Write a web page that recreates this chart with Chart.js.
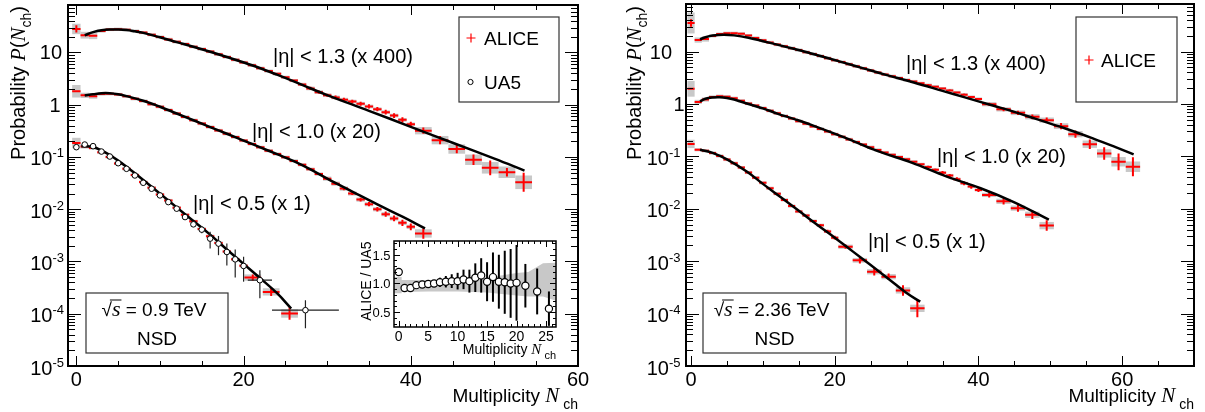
<!DOCTYPE html>
<html>
<head>
<meta charset="utf-8">
<script src="https://cdn.jsdelivr.net/npm/chart.js@4.4.1/dist/chart.umd.min.js"></script>
<style>
  html, body { margin: 0; padding: 0; background: #fff; }
  #wrap { position: relative; width: 1205px; height: 412px; overflow: hidden; background: #fff; }
  canvas { position: absolute; top: 0; }
</style>
</head>
<body>
<div id="wrap">
  <canvas id="c09" width="605" height="412" style="left:0"></canvas>
  <canvas id="c236" width="600" height="412" style="left:605px"></canvas>
  <canvas id="cRatio" width="225" height="140" style="left:340px;top:225px"></canvas>
</div>
<script>
//=======================================================//
//  sqrt(s) = 0.9 TeV  (left panel)

// |eta| < 1.3 (x 400)
const a09_13_x = [0,1,2,3,4,5,6,7,8,9,10,11,12,13,14,15,16,17,18,19,20,21,22,23,24,25,26,27,28,29,30,31,32,33,34,35,36,37,38,39,40,41.5,43.5,45.5,47.5,49.5,51.5,53.5];
const a09_13_y = [28.2,21.4,20.9,25.7,27.5,27.9,27.2,25.7,24.0,21.9,19.7,17.8,16.0,14.5,12.9,11.6,10.4,9.2,8.2,7.25,6.45,5.7,5.0,4.4,3.9,3.35,2.9,2.45,2.05,1.74,1.52,1.38,1.25,1.15,1.045,0.927,0.822,0.72,0.62,0.513,0.422,0.318,0.21,0.142,0.0885,0.062,0.051,0.0328];
const a09_13_ex = [0.5,0.5,0.5,0.5,0.5,0.5,0.5,0.5,0.5,0.5,0.5,0.5,0.5,0.5,0.5,0.5,0.5,0.5,0.5,0.5,0.5,0.5,0.5,0.5,0.5,0.5,0.5,0.5,0.5,0.5,0.5,0.5,0.5,0.5,0.5,0.5,0.5,0.5,0.5,0.5,0.5,1,1,1,1,1,1,1];
const a09_13_stat = [0.07,0.005,0.005,0.005,0.005,0.005,0.005,0.005,0.005,0.005,0.005,0.005,0.005,0.005,0.005,0.005,0.005,0.005,0.005,0.005,0.005,0.005,0.005,0.005,0.005,0.005,0.005,0.005,0.03,0.03,0.03,0.035,0.035,0.035,0.04,0.04,0.04,0.045,0.045,0.05,0.05,0.06,0.08,0.08,0.1,0.14,0.08,0.18];
const a09_13_sys = [0.1,0.065,0.065,0.03,0.03,0.03,0.03,0.03,0.03,0.03,0.03,0.03,0.03,0.03,0.03,0.03,0.03,0.03,0.03,0.03,0.03,0.03,0.03,0.03,0.03,0.03,0.03,0.03,0.035,0.035,0.035,0.035,0.035,0.035,0.035,0.035,0.035,0.035,0.035,0.035,0.035,0.07,0.08,0.09,0.1,0.11,0.11,0.13];
const fit09_13_x = [1,2,3,4,5,6,7,8,10,12,15,18,21,24,27,30,35,40,45,50,53.6];
const fit09_13_y = [21.4,24.5,26.6,27.5,27.5,26.9,25.4,23.7,19.5,15.8,11.5,8.2,5.7,3.76,2.4,1.53,0.765,0.378,0.187,0.093,0.055];

// |eta| < 1.0 (x 20)
const a09_10_x = [0,1,2,3,4,5,6,7,8,9,10,11,12,13,14,15,16,17,18,19,20,21,22,23,24,25,26,27,28,29,30,31,32,33,34,35,36,37,38,39,40,41.5];
const a09_10_y = [1.81,1.51,1.46,1.60,1.62,1.57,1.445,1.30,1.175,1.02,0.915,0.79,0.68,0.585,0.505,0.435,0.374,0.322,0.278,0.24,0.206,0.178,0.153,0.132,0.114,0.0988,0.0842,0.071,0.0585,0.0472,0.0385,0.0309,0.0248,0.02,0.0153,0.0125,0.01,0.00805,0.00667,0.00549,0.0046,0.00344];
const a09_10_ex = [0.5,0.5,0.5,0.5,0.5,0.5,0.5,0.5,0.5,0.5,0.5,0.5,0.5,0.5,0.5,0.5,0.5,0.5,0.5,0.5,0.5,0.5,0.5,0.5,0.5,0.5,0.5,0.5,0.5,0.5,0.5,0.5,0.5,0.5,0.5,0.5,0.5,0.5,0.5,0.5,0.5,1];
const a09_10_stat = [0.01,0.005,0.005,0.005,0.005,0.005,0.005,0.005,0.005,0.005,0.005,0.005,0.005,0.005,0.005,0.005,0.005,0.005,0.005,0.005,0.005,0.005,0.005,0.005,0.005,0.005,0.005,0.005,0.005,0.005,0.02,0.025,0.03,0.03,0.035,0.04,0.045,0.05,0.055,0.06,0.065,0.1];
const a09_10_sys = [0.12,0.05,0.05,0.03,0.03,0.03,0.03,0.03,0.03,0.03,0.03,0.03,0.03,0.03,0.03,0.03,0.03,0.03,0.03,0.03,0.03,0.03,0.03,0.03,0.03,0.03,0.03,0.03,0.03,0.03,0.04,0.04,0.04,0.04,0.04,0.04,0.04,0.04,0.04,0.04,0.04,0.08];
const fit09_10_x = [1,2,3,4,5,6,8,10,12,14,16,18,20,22,24,26,28,30,33,36,39,41.7];
const fit09_10_y = [1.5,1.585,1.66,1.66,1.585,1.46,1.19,0.915,0.68,0.505,0.374,0.278,0.206,0.153,0.113,0.0832,0.0578,0.0385,0.0218,0.0124,0.0072,0.0043];

// |eta| < 0.5 (x 1)
const a09_05_x = [0,1,2,3,4,5,6,7,8,9,10,11,12,13,14,15,16,17,18,19,20,21.1,23.3,25.5];
const a09_05_y = [0.185,0.159,0.148,0.123,0.1,0.0752,0.0594,0.0452,0.0331,0.0257,0.0191,0.0147,0.0107,0.0078,0.00586,0.00419,0.00304,0.00227,0.00155,0.0011,0.00083,0.000493,0.000262,0.000101];
const a09_05_ex = [0.5,0.5,0.5,0.5,0.5,0.5,0.5,0.5,0.5,0.5,0.5,0.5,0.5,0.5,0.5,0.5,0.5,0.5,0.5,0.5,0.5,1,1,1];
const a09_05_stat = [0.01,0.005,0.005,0.005,0.005,0.005,0.005,0.005,0.005,0.005,0.005,0.005,0.005,0.005,0.005,0.02,0.03,0.03,0.04,0.05,0.05,0.06,0.08,0.12];
const a09_05_sys = [0.1,0.04,0.03,0.03,0.03,0.03,0.03,0.03,0.03,0.03,0.03,0.03,0.03,0.03,0.03,0.03,0.03,0.03,0.03,0.03,0.03,0.06,0.07,0.08];
const fit09_05_x = [0.6,2,3,4,5,6,8,10,12,14,16,18,20,22,24,25.7];
const fit09_05_y = [0.161,0.155,0.134,0.109,0.0851,0.0647,0.0363,0.0199,0.01087,0.00596,0.00326,0.0017,0.000902,0.000477,0.000247,0.000126];

// UA5, |eta| < 0.5
const ua5_x = [0,1,2,3,4,5,6,7,8,9,10,11,12,13,14,15,16,17,18,19,20,21.95,27.4];
const ua5_y = [0.154,0.173,0.161,0.127,0.102,0.076,0.0594,0.0443,0.0321,0.0247,0.0184,0.0137,0.01026,0.00708,0.00514,0.00407,0.00274,0.0022,0.00152,0.0011,0.000822,0.000439,0.000117];
const ua5_ex = [0,0,0,0,0,0,0,0,0,0,0,0,0,0,0,0,0,0,0,0,0,1.45,4];
const ua5_ey = [0.03,0.03,0.03,0.03,0.03,0.03,0.03,0.03,0.03,0.03,0.03,0.03,0.03,0.03,0.1,0.15,0.35,0.4,0.45,0.55,0.5,0.55,0.55];

// ALICE / UA5 ratio (inset)
const ratio_x = [0,1,2,3,4,5,6,7,8,9,10,11,12,13,14,15,16,17,18,19,20,21.5,23.5,25.5];
const ratio_y = [1.2,0.92,0.92,0.97,0.98,0.99,1.0,1.02,1.03,1.04,1.04,1.07,1.04,1.1,1.14,1.03,1.11,1.03,1.02,1.0,1.01,0.96,0.86,0.56];
const ratio_err = [0.03,0.02,0.02,0.02,0.02,0.02,0.05,0.08,0.1,0.12,0.145,0.17,0.2,0.25,0.3,0.34,0.43,0.47,0.55,0.6,0.66,0.38,0.4,0.3];
const band_x = [-0.8,0.5,0.5,5,10,15,20,22,24.5,26.7];
const band_hi = [1.11,1.11,1.06,1.06,1.07,1.1,1.18,1.2,1.35,1.36];
const band_lo = [0.83,0.83,0.85,0.86,0.86,0.84,0.79,0.77,0.77,0.7];

//=======================================================//
//  sqrt(s) = 2.36 TeV  (right panel)

const a236_13_x = [0,1,2,3,4,5,6,7,8,9,10,11,12,13,14,15,16,17,18,19,20,21,22,23,24,25,26,27,28,29,30,31,32,33,34,35,36,37,38,39,40,41.5,43.5,45.5,47.5,49.5,51.5,53.5,55.5,57.5,59.5,61.5];
const a236_13_y = [35.2,16.6,17.4,19.95,21.6,22.4,22.4,21.9,20.2,18.2,16.4,15.0,13.6,12.6,11.6,10.7,9.77,9.0,8.2,7.5,6.84,6.31,5.75,5.25,4.79,4.37,3.98,3.67,3.39,3.13,2.88,2.69,2.48,2.29,2.14,1.97,1.82,1.66,1.51,1.36,1.245,0.99,0.79,0.68,0.57,0.492,0.378,0.266,0.171,0.114,0.079,0.0635];
const a236_13_ex = [0.5,0.5,0.5,0.5,0.5,0.5,0.5,0.5,0.5,0.5,0.5,0.5,0.5,0.5,0.5,0.5,0.5,0.5,0.5,0.5,0.5,0.5,0.5,0.5,0.5,0.5,0.5,0.5,0.5,0.5,0.5,0.5,0.5,0.5,0.5,0.5,0.5,0.5,0.5,0.5,0.5,1,1,1,1,1,1,1,1,1,1,1];
const a236_13_stat = [0.07,0.005,0.005,0.005,0.005,0.005,0.005,0.005,0.005,0.005,0.005,0.005,0.005,0.005,0.005,0.005,0.005,0.005,0.005,0.005,0.005,0.005,0.005,0.005,0.005,0.005,0.005,0.005,0.005,0.005,0.005,0.02,0.02,0.02,0.02,0.02,0.02,0.02,0.02,0.02,0.02,0.03,0.035,0.04,0.045,0.05,0.06,0.07,0.09,0.12,0.16,0.18];
const a236_13_sys = [0.2,0.05,0.05,0.03,0.03,0.03,0.03,0.03,0.03,0.03,0.03,0.03,0.03,0.03,0.03,0.03,0.03,0.03,0.03,0.03,0.03,0.03,0.03,0.03,0.03,0.03,0.03,0.03,0.03,0.03,0.03,0.03,0.03,0.03,0.03,0.03,0.03,0.03,0.03,0.03,0.03,0.04,0.04,0.045,0.05,0.05,0.055,0.06,0.07,0.08,0.09,0.1];
const fit236_13_x = [1.25,2,3,4.5,6,8,10,12,14,17,21,24,27,31,35,38,42,45,48,52,56,59,61.6];
const fit236_13_y = [17.2,18.8,20.2,21.0,20.4,18.4,15.8,13.6,11.6,9.0,6.31,4.79,3.63,2.57,1.78,1.35,0.935,0.708,0.52,0.345,0.219,0.152,0.109];

const a236_10_x = [0,1,2,3,4,5,6,7,8,9,10,11,12,13,14,15,16,17,18,19,20,21,22,23,24,25,26,27,28,29,30,31,32,33,34,35,36,37,38,39,40,41.5,43.5,45.5,47.5,49.5];
const a236_10_y = [1.95,1.096,1.216,1.365,1.413,1.38,1.29,1.148,1.023,0.935,0.835,0.745,0.665,0.592,0.528,0.471,0.42,0.374,0.334,0.298,0.265,0.236,0.211,0.188,0.168,0.15,0.133,0.119,0.107,0.0975,0.0885,0.079,0.0705,0.0628,0.0555,0.049,0.0432,0.0368,0.0306,0.0266,0.0229,0.0184,0.0139,0.0103,0.0077,0.00478];
const a236_10_ex = [0.5,0.5,0.5,0.5,0.5,0.5,0.5,0.5,0.5,0.5,0.5,0.5,0.5,0.5,0.5,0.5,0.5,0.5,0.5,0.5,0.5,0.5,0.5,0.5,0.5,0.5,0.5,0.5,0.5,0.5,0.5,0.5,0.5,0.5,0.5,0.5,0.5,0.5,0.5,0.5,0.5,1,1,1,1,1];
const a236_10_stat = [0.01,0.005,0.005,0.005,0.005,0.005,0.005,0.005,0.005,0.005,0.005,0.005,0.005,0.005,0.005,0.005,0.005,0.005,0.005,0.005,0.005,0.005,0.005,0.005,0.005,0.005,0.005,0.005,0.005,0.005,0.005,0.02,0.02,0.025,0.025,0.03,0.03,0.035,0.035,0.04,0.04,0.05,0.06,0.07,0.08,0.1];
const a236_10_sys = [0.15,0.04,0.04,0.03,0.03,0.03,0.03,0.03,0.03,0.03,0.03,0.03,0.03,0.03,0.03,0.03,0.03,0.03,0.03,0.03,0.03,0.03,0.03,0.03,0.03,0.03,0.03,0.03,0.03,0.03,0.03,0.03,0.03,0.03,0.03,0.03,0.03,0.03,0.03,0.03,0.03,0.04,0.05,0.05,0.06,0.07];
const fit236_10_x = [1.25,2,3,4,5,6,8,10,12,14.5,17,21.5,26,30.7,35.6,40.3,45,49.8];
const fit236_10_y = [1.122,1.259,1.334,1.349,1.303,1.216,1.0,0.826,0.657,0.51,0.388,0.226,0.126,0.0762,0.0412,0.0247,0.0133,0.0062];

const a236_05_x = [0,1,2,3,4,5,6,7,8,9,10,11,12,13,14,15,16,17,18,19,20,21.5,23.5,25.5,27.5,29.5,31.5];
const a236_05_y = [0.173,0.134,0.128,0.116,0.102,0.0871,0.0742,0.0612,0.0493,0.0393,0.0313,0.0247,0.0194,0.0148,0.01125,0.00887,0.00748,0.00582,0.00485,0.0037,0.00281,0.00189,0.00104,0.000628,0.000506,0.000277,0.000126];
const a236_05_ex = [0.5,0.5,0.5,0.5,0.5,0.5,0.5,0.5,0.5,0.5,0.5,0.5,0.5,0.5,0.5,0.5,0.5,0.5,0.5,0.5,0.5,1,1,1,1,1,1];
const a236_05_stat = [0.01,0.005,0.005,0.005,0.005,0.005,0.005,0.005,0.005,0.005,0.005,0.005,0.005,0.005,0.005,0.01,0.015,0.02,0.025,0.03,0.035,0.04,0.06,0.07,0.06,0.1,0.17];
const a236_05_sys = [0.08,0.03,0.03,0.03,0.03,0.03,0.03,0.03,0.03,0.03,0.03,0.03,0.03,0.03,0.03,0.03,0.03,0.03,0.03,0.03,0.03,0.04,0.045,0.05,0.05,0.06,0.07];
const fit236_05_x = [1.25,3,5,7.75,10,12.5,15,17.5,20,22.5,25,27.5,30,31.9];
const fit236_05_y = [0.134,0.117,0.0879,0.0516,0.0299,0.0166,0.00916,0.00502,0.00281,0.00154,0.000843,0.000457,0.000247,0.000169];

// ticks and texts
const xTickVals = [0, 20, 40, 60];
const xTickText = ['0', '20', '40', '60'];
const yTickVals = [1e-5, 1e-4, 1e-3, 1e-2, 1e-1, 1, 10];
const yTickText = ['10^-5', '10^-4', '10^-3', '10^-2', '10^-1', '1', '10'];
const ratioXTicks = [0, 5, 10, 15, 20, 25];
const ratioYTicks = [0.5, 1.0, 1.5];
const ratioYText = ['0.5', '1.0', '1.5'];
const etaLabels = ['|\u03b7| < 1.3 (x 400)', '|\u03b7| < 1.0 (x 20)', '|\u03b7| < 0.5 (x 1)'];

//=======================================================//

const RED = '#ff0000';
const GREY = '#c8c8c8';
const sans = s => s + 'px "Liberation Sans", Arial, sans-serif';
const ital = s => 'italic ' + s + 'px "Liberation Serif", "Times New Roman", serif';
const pts = (xs, ys) => xs.map((x, i) => ({ x: x, y: ys[i] }));

// text made of pieces with own font / vertical shift / overline
function rich(ctx, parts, x, y, align) {
  let w = 0;
  parts.forEach(p => { ctx.font = p[1]; w += ctx.measureText(p[0]).width; });
  let cx = align === 'right' ? x - w : (align === 'center' ? x - w / 2 : x);
  parts.forEach(p => {
    ctx.font = p[1];
    const pw = ctx.measureText(p[0]).width;
    ctx.fillText(p[0], cx, y + (p[2] || 0));
    if (p[3]) {
      ctx.beginPath(); ctx.lineWidth = 1;
      ctx.moveTo(cx - 2, y - 15.5); ctx.lineTo(cx + pw + 1, y - 15.5); ctx.stroke();
    }
    cx += pw;
  });
}

function isMult(v, m) { const r = v / m; return Math.abs(r - Math.round(r)) < 1e-6; }

function logTicks(min, max) {
  const out = [];
  for (let d = Math.floor(Math.log10(min)); d <= Math.ceil(Math.log10(max)); d++) {
    for (let m = 1; m < 10; m++) {
      const v = m * Math.pow(10, d);
      if (v >= min * 0.999 && v <= max) out.push({ v: v, big: m === 1 });
    }
  }
  return out;
}

function linTicks(min, max, step, major) {
  const out = [];
  for (let i = Math.ceil(min / step - 1e-9); i * step <= max + 1e-9; i++) {
    const v = i * step;
    out.push({ v: v, big: isMult(v, major) });
  }
  return out;
}

function drawAxes(chart, o) {
  const ctx = chart.ctx, a = chart.chartArea;
  const sx = chart.scales.x, sy = chart.scales.y;
  ctx.save();
  ctx.strokeStyle = '#000';
  ctx.lineWidth = 1;
  ctx.beginPath();
  for (let v = Math.ceil(sx.min / o.xStep) * o.xStep; v <= sx.max + 1e-9; v += o.xStep) {
    const p = Math.round(sx.getPixelForValue(v)) + 0.5;
    const L = isMult(v, o.xMajor) ? o.xLong : o.xShort;
    ctx.moveTo(p, a.bottom); ctx.lineTo(p, a.bottom - L);
    ctx.moveTo(p, a.top); ctx.lineTo(p, a.top + L);
  }
  const yt = o.log ? logTicks(sy.min, sy.max) : linTicks(sy.min, sy.max, o.yStep, o.yMajor);
  yt.forEach(t => {
    const p = Math.round(sy.getPixelForValue(t.v)) + 0.5;
    const L = t.big ? o.yLong : o.yShort;
    ctx.moveTo(a.left, p); ctx.lineTo(a.left + L, p);
    ctx.moveTo(a.right, p); ctx.lineTo(a.right - L, p);
  });
  ctx.stroke();
  ctx.lineWidth = o.frame;
  ctx.strokeRect(a.left, a.top, a.right - a.left, a.bottom - a.top);
  ctx.restore();
}

// grey systematic boxes + error crosses, drawn just before their dataset
const errorBars = {
  id: 'errorBars',
  beforeDatasetDraw(chart, args) {
    const ds = chart.data.datasets[args.index];
    const e = ds.err;
    if (!e) return;
    const ctx = chart.ctx, a = chart.chartArea;
    const X = v => chart.scales.x.getPixelForValue(v);
    const Y = v => chart.scales.y.getPixelForValue(v);
    ctx.save();
    ctx.beginPath();
    ctx.rect(a.left, a.top, a.right - a.left, a.bottom - a.top);
    ctx.clip();
    if (e.sys) {
      ctx.fillStyle = GREY;
      ds.data.forEach((p, i) => {
        const f = Math.pow(10, e.sys[i]);
        const x0 = X(p.x - e.ex[i]), x1 = X(p.x + e.ex[i]);
        const y0 = Y(p.y * f), y1 = Y(p.y / f);
        ctx.fillRect(x0, y0, x1 - x0, y1 - y0);
      });
    }
    ctx.strokeStyle = e.color;
    ctx.lineWidth = e.lw;
    ds.data.forEach((p, i) => {
      let lo, hi;
      if (e.stat) { const f = Math.pow(10, e.stat[i]); lo = p.y / f; hi = p.y * f; }
      else if (e.rel) { lo = p.y * (1 - e.rel[i]); hi = p.y * (1 + e.rel[i]); }
      else { lo = p.y - e.abs[i]; hi = p.y + e.abs[i]; }
      const hx = e.ex ? e.ex[i] : 0;
      ctx.beginPath();
      if (hx > 0) { ctx.moveTo(X(p.x - hx), Y(p.y)); ctx.lineTo(X(p.x + hx), Y(p.y)); }
      ctx.moveTo(X(p.x), Y(hi)); ctx.lineTo(X(p.x), Y(lo));
      ctx.stroke();
    });
    ctx.restore();
  }
};

function aliceSet(x, y, ex, stat, sys) {
  return { data: pts(x, y), pointRadius: 0, order: 3,
           err: { ex: ex, stat: stat, sys: sys, color: RED, lw: 2 } };
}
function fitSet(x, y) {
  return { data: pts(x, y), showLine: true, borderColor: '#000', borderWidth: 2.5,
           pointRadius: 0, tension: 0.4, fill: false, order: 1 };
}

const mainAxis = { xStep: 5, xMajor: 20, xLong: 10, xShort: 5, log: true, yLong: 13, yShort: 7, frame: 2 };

// lab: right edges for exponent labels, for "1" and for "10"
function mainLabels(chart, lab, yTitleX) {
  const ctx = chart.ctx, sx = chart.scales.x, sy = chart.scales.y, a = chart.chartArea;
  ctx.fillStyle = '#000'; ctx.strokeStyle = '#000';
  ctx.textAlign = 'left'; ctx.textBaseline = 'alphabetic';
  xTickVals.forEach((v, i) => {
    if (v > sx.max) return;
    rich(ctx, [[xTickText[i], sans(20)]], sx.getPixelForValue(v), 385.5, 'center');
  });
  yTickVals.forEach((v, i) => {
    const p = sy.getPixelForValue(v);
    const s = yTickText[i].split('^');
    if (s.length > 1) rich(ctx, [[s[0], sans(20)], [s[1], sans(13), -8]], lab[0], p + 8.5, 'right');
    else rich(ctx, [[s[0], sans(20)]], s[0] === '1' ? lab[1] : lab[2], p + 7, 'right');
  });
  // axis titles
  rich(ctx, [['Multiplicity ', sans(19)], ['N', ital(21)], [' ch', sans(14), 7]], a.right, 402, 'right');
  ctx.save();
  ctx.translate(yTitleX, 6);
  ctx.rotate(-Math.PI / 2);
  rich(ctx, [['Probability ', sans(20)], ['P', ital(21)], ['(', sans(20)], ['N', ital(21)], ['ch', sans(14), 6], [')', sans(20)]], 0, 0, 'right');
  ctx.restore();
}

function infoBox(ctx, x, y, w, h, energy) {
  ctx.save();
  ctx.strokeStyle = '#333'; ctx.lineWidth = 1.2;
  ctx.strokeRect(x, y, w, h);
  ctx.fillStyle = '#000'; ctx.strokeStyle = '#000';
  rich(ctx, [['\u221a', sans(19)], ['s', ital(22), 0, true], [' = ' + energy + ' TeV', sans(19)]], x + w / 2 - 3, y + 22.5, 'center');
  rich(ctx, [['NSD', sans(19)]], x + w / 2, y + 51.5, 'center');
  ctx.restore();
}

function legendCross(ctx, x, y) {
  ctx.save();
  ctx.strokeStyle = RED; ctx.lineWidth = 1.2;
  ctx.beginPath();
  ctx.moveTo(x - 4.5, y); ctx.lineTo(x + 4.5, y);
  ctx.moveTo(x, y - 4.5); ctx.lineTo(x, y + 4.5);
  ctx.stroke();
  ctx.restore();
}

const deco09 = {
  id: 'deco09',
  afterDraw(chart) {
    const ctx = chart.ctx;
    drawAxes(chart, mainAxis);
    ctx.save();
    mainLabels(chart, [64, 60.5, 62], 24.5);
    rich(ctx, [[etaLabels[0], sans(20)]], 273, 63, 'left');
    rich(ctx, [[etaLabels[1], sans(20)]], 252, 138, 'left');
    rich(ctx, [[etaLabels[2], sans(20)]], 193, 210, 'left');
    // legend
    ctx.strokeStyle = '#333'; ctx.lineWidth = 1.2;
    ctx.strokeRect(459, 17, 100, 85);
    legendCross(ctx, 471, 38);
    ctx.fillStyle = '#000';
    rich(ctx, [['ALICE', sans(19)]], 484, 45, 'left');
    ctx.beginPath(); ctx.arc(470.5, 82, 2.6, 0, 2 * Math.PI);
    ctx.strokeStyle = '#000'; ctx.lineWidth = 1; ctx.stroke();
    rich(ctx, [['UA5', sans(19)]], 484, 89, 'left');
    ctx.restore();
    infoBox(ctx, 86, 293, 142, 60, '0.9');
  }
};

const deco236 = {
  id: 'deco236',
  afterDraw(chart) {
    const ctx = chart.ctx;
    drawAxes(chart, mainAxis);
    ctx.save();
    mainLabels(chart, [75.5, 79.5, 67], 36);
    rich(ctx, [[etaLabels[0], sans(20)]], 301, 70, 'left');
    rich(ctx, [[etaLabels[1], sans(20)]], 332, 163, 'left');
    rich(ctx, [[etaLabels[2], sans(20)]], 263, 248, 'left');
    ctx.strokeStyle = '#333'; ctx.lineWidth = 1.2;
    ctx.strokeRect(471, 17, 101, 85);
    legendCross(ctx, 484, 60);
    ctx.fillStyle = '#000';
    rich(ctx, [['ALICE', sans(19)]], 496, 67, 'left');
    ctx.restore();
    infoBox(ctx, 98, 293, 143, 60, '2.36');
  }
};

const decoRatio = {
  id: 'decoRatio',
  afterDraw(chart) {
    const ctx = chart.ctx, sx = chart.scales.x, sy = chart.scales.y, a = chart.chartArea;
    drawAxes(chart, { xStep: 1, xMajor: 5, xLong: 6, xShort: 3, log: false, yStep: 0.1, yMajor: 0.5, yLong: 6, yShort: 3, frame: 1.5 });
    ctx.save();
    ctx.fillStyle = '#000'; ctx.strokeStyle = '#000';
    ctx.textAlign = 'left'; ctx.textBaseline = 'alphabetic';
    ratioXTicks.forEach(v => rich(ctx, [[String(v), sans(14)]], sx.getPixelForValue(v), 115.5, 'center'));
    ratioYTicks.forEach((v, i) => rich(ctx, [[ratioYText[i], sans(13)]], 50.5, sy.getPixelForValue(v) + 5, 'right'));
    rich(ctx, [['Multiplicity ', sans(14)], ['N', ital(15)], [' ch', sans(11), 5]], a.right, 128.5, 'right');
    ctx.translate(30.5, 16.5);
    ctx.rotate(-Math.PI / 2);
    rich(ctx, [['ALICE / UA5', sans(14)]], 0, 0, 'right');
    ctx.restore();
  }
};

const baseOptions = (pad, xMin, xMax, yMin, yMax, yType) => ({
  responsive: false,
  animation: false,
  events: [],
  layout: { padding: pad },
  plugins: { legend: { display: false }, tooltip: { enabled: false } },
  scales: {
    x: { type: 'linear', min: xMin, max: xMax, display: false },
    y: { type: yType, min: yMin, max: yMax, display: false }
  }
});

// 0.9 TeV panel
new Chart(document.getElementById('c09'), {
  type: 'scatter',
  data: {
    datasets: [
      { data: pts(ua5_x, ua5_y), pointRadius: 2.8, pointStyle: 'circle', pointBackgroundColor: '#fff',
        pointBorderColor: '#000', pointBorderWidth: 1, order: 0,
        err: { ex: ua5_ex, rel: ua5_ey, color: '#222', lw: 1.2 } },
      fitSet(fit09_13_x, fit09_13_y),
      fitSet(fit09_10_x, fit09_10_y),
      fitSet(fit09_05_x, fit09_05_y),
      aliceSet(a09_13_x, a09_13_y, a09_13_ex, a09_13_stat, a09_13_sys),
      aliceSet(a09_10_x, a09_10_y, a09_10_ex, a09_10_stat, a09_10_sys),
      aliceSet(a09_05_x, a09_05_y, a09_05_ex, a09_05_stat, a09_05_sys)
    ]
  },
  options: baseOptions({ left: 68, top: 4, right: 27, bottom: 46 }, -1, 60, 1e-5, 81, 'logarithmic'),
  plugins: [errorBars, deco09]
});

// 2.36 TeV panel
new Chart(document.getElementById('c236'), {
  type: 'scatter',
  data: {
    datasets: [
      fitSet(fit236_13_x, fit236_13_y),
      fitSet(fit236_10_x, fit236_10_y),
      fitSet(fit236_05_x, fit236_05_y),
      aliceSet(a236_13_x, a236_13_y, a236_13_ex, a236_13_stat, a236_13_sys),
      aliceSet(a236_10_x, a236_10_y, a236_10_ex, a236_10_stat, a236_10_sys),
      aliceSet(a236_05_x, a236_05_y, a236_05_ex, a236_05_stat, a236_05_sys)
    ]
  },
  options: baseOptions({ left: 81, top: 4, right: 11, bottom: 46 }, -0.7, 70, 1e-5, 81, 'logarithmic'),
  plugins: [errorBars, deco236]
});

// inset: ALICE / UA5
new Chart(document.getElementById('cRatio'), {
  type: 'scatter',
  data: {
    datasets: [
      { data: pts(ratio_x, ratio_y), pointRadius: 3.6, pointStyle: 'circle', pointBackgroundColor: '#fff',
        pointBorderColor: '#000', pointBorderWidth: 1.2, order: 0,
        err: { abs: ratio_err, color: '#000', lw: 2 } },
      { data: pts(band_x, band_hi), showLine: true, borderWidth: 0, borderColor: 'rgba(0,0,0,0)', pointRadius: 0,
        fill: '+1', backgroundColor: GREY, tension: 0, order: 5 },
      { data: pts(band_x, band_lo), showLine: true, borderWidth: 0, borderColor: 'rgba(0,0,0,0)', pointRadius: 0,
        fill: false, tension: 0, order: 6 }
    ]
  },
  options: baseOptions({ left: 54, top: 16, right: 9, bottom: 38 }, -0.8, 26.7, 0.24, 1.74, 'linear'),
  plugins: [errorBars, decoRatio]
});
</script>
</body>
</html>
